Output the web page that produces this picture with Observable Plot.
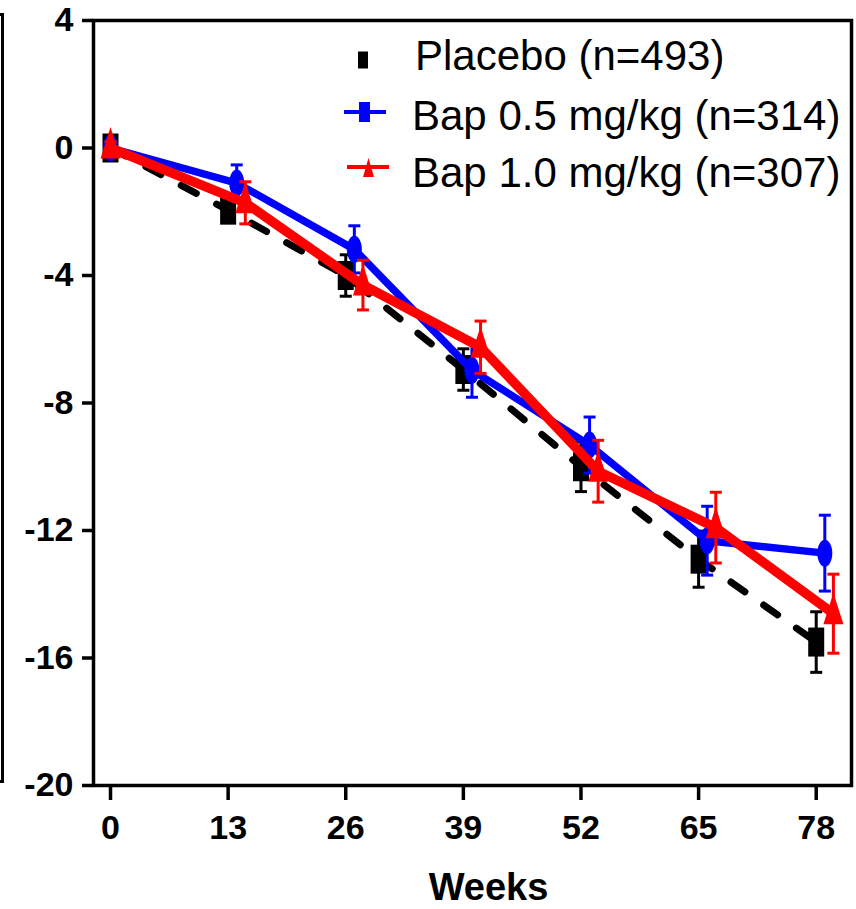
<!DOCTYPE html>
<html>
<head>
<meta charset="utf-8">
<script src="https://cdn.jsdelivr.net/npm/d3@7"></script>
<script src="https://cdn.jsdelivr.net/npm/@observablehq/plot@0.6"></script>
<style>
  html, body { margin: 0; padding: 0; background: #fff; }
  #wrap { position: relative; width: 856px; height: 909px; overflow: hidden; }
  #legend { position: absolute; left: 0; top: 0; pointer-events: none; }
  .bracket { position: absolute; background: #000; }
</style>
</head>
<body>
<div id="wrap">
  <div class="bracket" style="left:1px;top:13px;width:3px;height:770px"></div>
  <div class="bracket" style="left:0;top:13px;width:4px;height:3px"></div>
  <div class="bracket" style="left:0;top:780px;width:4px;height:3px"></div>
</div>
<script>
// ---- data ----
const weeks = [0, 13, 26, 39, 52, 65, 78];
const yTicks = [-20, -16, -12, -8, -4, 0, 4];
const seriesNames = ["Placebo (n=493)", "Bap 0.5 mg/kg (n=314)", "Bap 1.0 mg/kg (n=307)"];
const placebo   = [0, -1.95, -4.0, -6.95, -10.0, -12.9, -15.5];
const placeboSE = [0.2, 0.35, 0.65, 0.65, 0.78, 0.88, 0.95];
const bap05     = [0, -1.1, -3.18, -6.97, -9.32, -12.32, -12.71];
const bap05SE   = [0.2, 0.57, 0.74, 0.85, 0.88, 1.08, 1.19];
const bap10     = [0, -1.72, -4.3, -6.25, -10.14, -11.91, -14.61];
const bap10SE   = [0.2, 0.66, 0.78, 0.82, 0.97, 1.11, 1.24];

// ---- styling / layout ----
const colors = ["#000000", "#0000ff", "#ff0000"];
const dodge = [0, 0.95, 1.9]; // horizontal dodge in weeks (not applied at baseline)
const FONT = "'Liberation Sans', Arial, Helvetica, sans-serif";

function unit(size) { return Math.sqrt(size / Math.PI); }
const rectSym = { draw(c, size) { const s = unit(size); const w = 8 * s, h = 14.5 * s; c.moveTo(-w, -h); c.lineTo(w, -h); c.lineTo(w, h); c.lineTo(-w, h); c.closePath(); } };
const ellSym = { draw(c, size) { const s = unit(size); const a = 7.5 * s, b = 13.5 * s, k = 0.5523;
  c.moveTo(0, -b);
  c.bezierCurveTo(a * k, -b, a, -b * k, a, 0);
  c.bezierCurveTo(a, b * k, a * k, b, 0, b);
  c.bezierCurveTo(-a * k, b, -a, b * k, -a, 0);
  c.bezierCurveTo(-a, -b * k, -a * k, -b, 0, -b);
  c.closePath(); } };
const triSym = { draw(c, size) { const s = unit(size); c.moveTo(0, -21 * s); c.lineTo(10 * s, 10.5 * s); c.lineTo(-10 * s, 10.5 * s); c.closePath(); } };
const capSym = { draw(c, size) { const s = unit(size); c.moveTo(-6 * s, 0); c.lineTo(6 * s, 0); } };
const symbols = [rectSym, ellSym, triSym];

const allVals = [placebo, bap05, bap10];
const allSE = [placeboSE, bap05SE, bap10SE];
const series = allVals.map((vals, i) => weeks.map((w, j) => ({
  s: i,
  x: w === 0 ? 0 : w + dodge[i],
  y: vals[j],
  lo: vals[j] - allSE[i][j],
  hi: vals[j] + allSE[i][j]
})));

const lineStyles = [
  { strokeWidth: 7, strokeDasharray: "17,23", strokeLinecap: "round" },
  { strokeWidth: 7.5 },
  { strokeWidth: 9.5 }
];

const marks = [];
series.forEach((d, i) => {
  marks.push(Plot.line(d, { x: "x", y: "y", stroke: colors[i], ...lineStyles[i] }));
  marks.push(Plot.ruleX(d, { x: "x", y1: "lo", y2: "hi", stroke: colors[i], strokeWidth: 3 }));
  marks.push(Plot.dot(d, { x: "x", y: "lo", r: 1, symbol: capSym, stroke: colors[i], strokeWidth: 3 }));
  marks.push(Plot.dot(d, { x: "x", y: "hi", r: 1, symbol: capSym, stroke: colors[i], strokeWidth: 3 }));
  marks.push(Plot.dot(d, { x: "x", y: "y", r: 1, symbol: symbols[i], fill: colors[i], stroke: "none" }));
});

const chart = Plot.plot({
  width: 856,
  height: 909,
  marginLeft: 93,
  marginRight: 5,
  marginTop: 20,
  marginBottom: 124,
  style: { fontFamily: FONT, fontWeight: "bold", background: "transparent", overflow: "visible" },
  x: { domain: [-1.88, 81.9] },
  y: { domain: [-20, 4] },
  marks: [
    Plot.axisY({ ticks: yTicks, tickSize: 11, tickPadding: 9, fontSize: 34, fontWeight: "bold", strokeWidth: 3.5, tickFormat: d => String(d), label: null }),
    Plot.axisX({ ticks: weeks, tickSize: 15, tickPadding: 14, fontSize: 34, fontWeight: "bold", strokeWidth: 3.5, tickFormat: d => String(d), label: null }),
    Plot.text(["Weeks"], { frameAnchor: "bottom", dx: 16, dy: 114, lineAnchor: "bottom", fontSize: 38, fontWeight: "bold", fill: "#000" }),
    ...marks,
    Plot.frame({ stroke: "#000", strokeWidth: 3.5 })
  ]
});
const wrap = document.getElementById("wrap");
wrap.insertBefore(chart, wrap.firstChild);

// ---- legend (inside plot area, top-right) ----
const lg = d3.select(wrap).append("svg").attr("id", "legend").attr("width", 856).attr("height", 909);
const rowsY = [60, 112, 167];
const baselines = [70, 130, 187];
const textX = [415, 412, 412];
seriesNames.forEach((name, i) => {
  const g = lg.append("g");
  const cy = rowsY[i];
  if (i === 0) {
    g.append("rect").attr("x", 358).attr("y", cy - 8.5).attr("width", 10).attr("height", 17).attr("fill", colors[0]);
  } else if (i === 1) {
    g.append("line").attr("x1", 344).attr("x2", 386).attr("y1", cy).attr("y2", cy).attr("stroke", colors[1]).attr("stroke-width", 4);
    g.append("rect").attr("x", 359).attr("y", cy - 10).attr("width", 11).attr("height", 20).attr("fill", colors[1]);
  } else {
    g.append("line").attr("x1", 347).attr("x2", 389).attr("y1", cy).attr("y2", cy).attr("stroke", colors[2]).attr("stroke-width", 4);
    g.append("path").attr("d", `M368.5,${cy - 9}L374,${cy + 10}L363,${cy + 10}Z`).attr("fill", colors[2]);
  }
  g.append("text").attr("x", textX[i]).attr("y", baselines[i]).attr("font-family", FONT).attr("font-size", 42).attr("fill", "#000").text(name);
});
</script>
</body>
</html>
